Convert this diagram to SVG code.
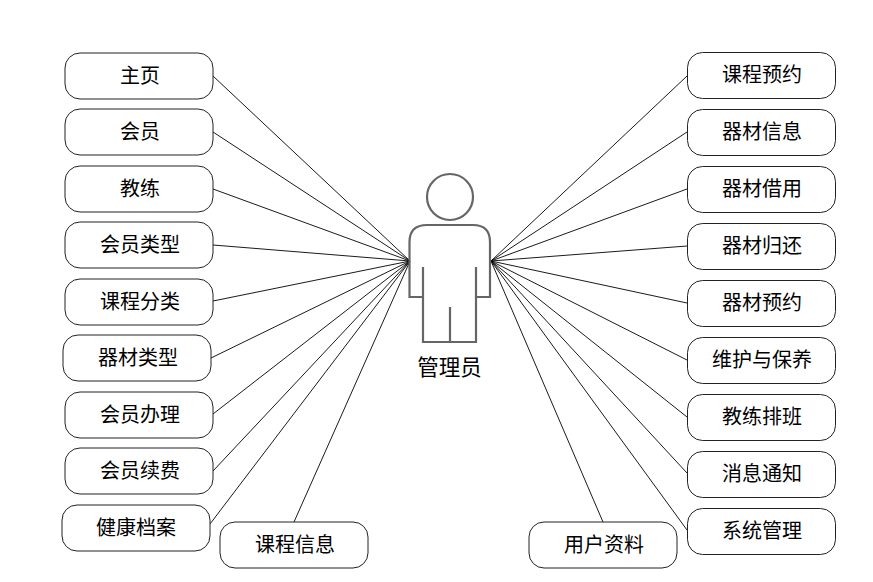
<svg xmlns="http://www.w3.org/2000/svg" width="873" height="582" viewBox="0 0 873 582">
<style>
.n rect{fill:#fff;stroke:#222;stroke-width:1}
text{font-family:"Noto Sans CJK SC","Noto Sans",sans-serif;font-size:20px;fill:#000;text-anchor:middle}
#connectors line{stroke:#000;stroke-width:.9}
.a{fill:none;stroke:#666;stroke-width:2.2}
</style>
<rect width="873" height="582" fill="#fff"/>
<g id="connectors">
<line x1="213" y1="76" x2="410" y2="261"/><line x1="213" y1="132" x2="410" y2="261"/><line x1="213" y1="189" x2="410" y2="261"/><line x1="213" y1="245" x2="410" y2="261"/><line x1="213" y1="301" x2="410" y2="261"/><line x1="211" y1="358" x2="410" y2="261"/><line x1="213" y1="414" x2="410" y2="261"/><line x1="213" y1="471" x2="410" y2="261"/><line x1="210" y1="524" x2="410" y2="261"/><line x1="294" y1="522" x2="410" y2="261"/>
<line x1="687" y1="76" x2="491" y2="261"/><line x1="687" y1="132" x2="491" y2="261"/><line x1="687" y1="189" x2="491" y2="261"/><line x1="687" y1="246" x2="491" y2="261"/><line x1="687" y1="303" x2="491" y2="261"/><line x1="687" y1="360" x2="491" y2="261"/><line x1="687" y1="417" x2="491" y2="261"/><line x1="687" y1="473" x2="491" y2="261"/><line x1="687" y1="530" x2="491" y2="261"/><line x1="603" y1="522" x2="491" y2="261"/>
</g>
<g id="actor"><circle class="a" cx="450" cy="197" r="23"/><path class="a" d="M427 225H473Q490 225 490 242V297H476V342H423V297H409.500V242Q409.500 225 427 225ZM423 267V297M476 267V297M450 307V342"/><text x="449.500" y="375" style="font-size:21.500px">管理员</text></g>
<g id="n1" class="n"><rect x="65" y="53" width="148" height="46" rx="15"/><text x="140" y="83">主页</text></g>
<g id="n2" class="n"><rect x="65" y="109" width="148" height="46" rx="15"/><text x="140" y="139">会员</text></g>
<g id="n3" class="n"><rect x="65" y="166" width="148" height="46" rx="15"/><text x="140" y="196">教练</text></g>
<g id="n4" class="n"><rect x="65" y="222" width="148" height="46" rx="15"/><text x="140" y="252">会员类型</text></g>
<g id="n5" class="n"><rect x="65" y="279" width="148" height="46" rx="15"/><text x="140" y="309">课程分类</text></g>
<g id="n6" class="n"><rect x="63" y="335" width="148" height="46" rx="15"/><text x="138" y="365">器材类型</text></g>
<g id="n7" class="n"><rect x="65" y="392" width="148" height="46" rx="15"/><text x="140" y="422">会员办理</text></g>
<g id="n8" class="n"><rect x="65" y="448" width="148" height="46" rx="15"/><text x="140" y="478">会员续费</text></g>
<g id="n9" class="n"><rect x="62" y="505" width="148" height="46" rx="15"/><text x="136" y="535">健康档案</text></g>
<g id="n10" class="n"><rect x="220" y="522" width="148" height="46" rx="15"/><text x="295" y="552">课程信息</text></g>
<g id="n11" class="n"><rect x="529" y="522" width="148" height="46" rx="15"/><text x="604" y="552">用户资料</text></g>
<g id="n12" class="n"><rect x="687.500" y="52.500" width="148" height="46" rx="15"/><text x="762" y="82">课程预约</text></g>
<g id="n13" class="n"><rect x="687.500" y="109.500" width="148" height="46" rx="15"/><text x="762" y="139">器材信息</text></g>
<g id="n14" class="n"><rect x="687.500" y="166.500" width="148" height="46" rx="15"/><text x="762" y="196">器材借用</text></g>
<g id="n15" class="n"><rect x="687.500" y="223.500" width="148" height="46" rx="15"/><text x="762" y="253">器材归还</text></g>
<g id="n16" class="n"><rect x="687.500" y="280.500" width="148" height="46" rx="15"/><text x="762" y="310">器材预约</text></g>
<g id="n17" class="n"><rect x="687.500" y="337.500" width="148" height="46" rx="15"/><text x="762" y="367">维护与保养</text></g>
<g id="n18" class="n"><rect x="687.500" y="394.500" width="148" height="46" rx="15"/><text x="762" y="424">教练排班</text></g>
<g id="n19" class="n"><rect x="687.500" y="451.500" width="148" height="46" rx="15"/><text x="762" y="481">消息通知</text></g>
<g id="n20" class="n"><rect x="687.500" y="508.500" width="148" height="46" rx="15"/><text x="762" y="538">系统管理</text></g>
</svg>
